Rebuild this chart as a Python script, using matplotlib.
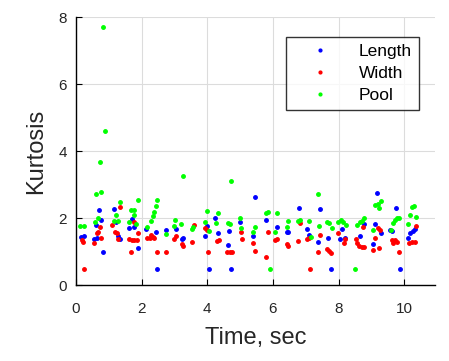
import matplotlib.pyplot as plt

plt.rcParams["font.family"] = ["Liberation Sans", "DejaVu Sans"]

# Kurtosis over time, one scatter series per measure
length_t = [0.17, 0.25, 0.56, 0.63, 0.71, 0.78, 0.61, 0.83, 1.17, 1.22,
            1.27, 1.34, 1.71, 1.63, 1.78, 1.90, 2.15, 2.44, 2.48, 2.75,
            3.05, 3.22, 3.27, 3.92, 3.98, 4.05, 4.25, 4.33, 4.67, 4.62,
            4.72, 5.00, 5.39, 5.46, 5.79, 6.14, 6.42, 6.47, 6.81, 7.03,
            7.11, 7.37, 7.42, 7.67, 7.77, 8.04, 8.10, 8.19, 8.66, 8.78,
            9.06, 9.11, 9.17, 9.29, 9.56, 9.64, 9.74, 9.86, 10.12, 10.19,
            10.27, 10.32]
length_k = [1.44, 1.46, 1.36, 1.39, 2.23, 1.94, 1.79, 0.98, 2.26, 1.89,
            1.46, 1.36, 1.96, 1.69, 1.74, 1.11, 1.67, 1.59, 0.48, 1.64,
            1.67, 1.36, 1.39, 1.46, 1.76, 0.48, 1.99, 1.56, 1.62, 1.19,
            0.48, 1.89, 1.47, 2.62, 1.94, 1.72, 1.57, 1.59, 2.29, 1.67,
            1.49, 1.29, 2.26, 1.39, 0.48, 1.36, 1.67, 1.41, 1.47, 1.82,
            1.21, 1.82, 2.74, 1.54, 1.64, 1.61, 2.31, 0.48, 1.39, 1.54,
            1.61, 1.67]

width_t = [0.26, 0.19, 0.22, 0.55, 0.63, 0.68, 0.73, 0.78, 1.35, 1.09,
           1.19, 1.24, 1.27, 1.61, 1.70, 1.77, 1.85, 1.78, 1.90, 1.68,
           2.17, 2.25, 2.34, 2.38, 2.29, 2.48, 2.75, 2.98, 3.05, 3.24,
           3.27, 3.54, 3.59, 3.93, 3.98, 4.03, 4.29, 4.35, 4.59, 4.69,
           4.74, 5.02, 5.07, 5.39, 5.46, 5.86, 5.79, 6.07, 6.13, 6.42,
           6.47, 6.75, 6.82, 7.03, 7.11, 7.14, 7.36, 7.42, 7.64, 7.71,
           7.77, 7.99, 8.16, 8.19, 8.52, 8.57, 8.63, 8.70, 8.77, 8.73,
           9.06, 9.12, 9.23, 9.21, 9.26, 9.62, 9.67, 9.72, 9.77, 9.85,
           10.15, 10.23, 10.32, 10.35]
width_k = [0.48, 1.34, 1.27, 1.24, 1.54, 1.59, 1.74, 1.41, 2.32, 1.79,
           1.59, 1.56, 1.36, 1.36, 1.34, 1.34, 1.34, 1.89, 1.54, 0.98,
           1.41, 1.39, 1.42, 1.39, 1.49, 0.98, 0.98, 1.36, 1.46, 1.21,
           1.16, 1.29, 1.79, 1.69, 1.64, 0.98, 1.32, 1.34, 0.99, 0.98,
           0.98, 1.59, 1.37, 1.24, 1.01, 1.59, 0.85, 1.34, 1.37, 1.21,
           1.17, 1.31, 1.86, 1.36, 1.39, 0.48, 0.98, 1.49, 1.07, 1.01,
           0.96, 1.56, 1.26, 1.36, 1.36, 1.24, 1.16, 1.14, 1.14, 1.74,
           1.04, 1.39, 1.10, 1.69, 1.64, 1.34, 1.26, 1.34, 1.29, 0.98,
           1.26, 1.27, 1.29, 1.77]

pool_t = [0.14, 0.24, 0.57, 0.66, 0.61, 0.78, 0.72, 0.83, 0.89, 1.15,
          1.22, 1.27, 1.35, 1.62, 1.68, 1.78, 1.76, 1.84, 1.90, 2.18,
          2.28, 2.34, 2.38, 2.44, 2.48, 2.75, 2.98, 3.03, 3.20, 3.26,
          3.53, 3.57, 3.93, 3.98, 4.04, 4.27, 4.32, 4.62, 4.68, 4.72,
          5.00, 5.04, 5.38, 5.46, 5.79, 5.86, 5.91, 6.06, 6.14, 6.42,
          6.47, 6.75, 6.82, 7.10, 7.16, 7.37, 7.41, 7.66, 7.72, 7.79,
          7.99, 8.06, 8.14, 8.22, 8.51, 8.57, 8.65, 8.71, 8.78, 9.06,
          9.10, 9.19, 9.23, 9.29, 9.60, 9.65, 9.71, 9.79, 9.85, 10.13,
          10.18, 10.24, 10.30, 10.36]
pool_k = [1.76, 1.76, 1.89, 1.99, 2.72, 2.78, 3.66, 7.71, 4.61, 1.92,
          2.09, 1.92, 2.49, 1.89, 2.24, 2.24, 2.09, 1.82, 2.53, 1.72,
          1.91, 2.07, 2.19, 2.36, 2.54, 1.53, 1.76, 1.94, 1.81, 3.25,
          1.67, 1.74, 1.87, 2.21, 1.61, 1.84, 2.14, 1.84, 1.81, 3.11,
          1.99, 1.71, 1.59, 1.72, 2.14, 2.19, 0.48, 1.59, 2.14, 1.74,
          1.91, 1.91, 1.94, 1.91, 1.42, 2.72, 1.76, 1.89, 1.86, 1.69,
          1.89, 1.94, 1.89, 1.79, 0.48, 1.79, 1.89, 1.91, 2.01, 1.64,
          2.39, 2.41, 2.29, 2.51, 1.64, 1.86, 1.94, 1.99, 1.99, 1.82,
          2.09, 2.34, 2.37, 2.04]

x_ticks = [0, 2, 4, 6, 8, 10]
y_ticks = [0, 2, 4, 6, 8]

fig = plt.figure(figsize=(4.49, 3.61), dpi=100)
ax = fig.add_axes([0.169, 0.2105, 0.80, 0.7424])

ax.plot(length_t, length_k, ".", color="#0000ff", ms=5, label="Length")
ax.plot(width_t, width_k, ".", color="#ff0000", ms=5, label="Width")
ax.plot(pool_t, pool_k, ".", color="#00ff00", ms=5, label="Pool")

ax.set_xlim(0, 10.94)
ax.set_ylim(0, 8)
ax.set_xticks(x_ticks)
ax.set_yticks(y_ticks)
ax.grid(True, color="#dcdcdc", linewidth=0.8)
ax.set_axisbelow(True)
for side in ("top", "right"):
    ax.spines[side].set_visible(False)
for side in ("left", "bottom"):
    ax.spines[side].set_color("black")
    ax.spines[side].set_linewidth(1.0)
ax.tick_params(direction="in", length=4, labelsize=11, labelcolor="#262626")
ax.tick_params(axis="x", pad=12)
ax.tick_params(axis="y", pad=6.5)

ax.set_xlabel("Time, sec", fontsize=17, color="#262626", labelpad=8)
ax.set_ylabel("Kurtosis", fontsize=17, color="#262626", labelpad=8)

leg = ax.legend(loc="upper left", bbox_to_anchor=(0.584, 0.9265), fontsize=12.5,
                frameon=True, fancybox=False, borderaxespad=0, borderpad=0.4,
                handlelength=3.2, handletextpad=0.6, labelspacing=0.4,
                markerscale=0.8)
leg.get_frame().set_edgecolor("black")
leg.get_frame().set_linewidth(1.0)

fig.savefig("out.png", dpi=100)
